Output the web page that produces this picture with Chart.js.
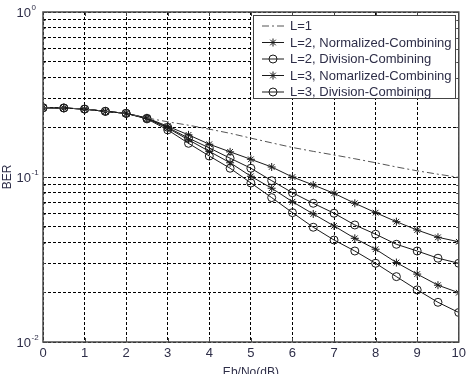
<!DOCTYPE html>
<html lang="en">
<head>
  <meta charset="UTF-8" />
  <title>BER vs Eb/No</title>
  <script src="https://cdn.jsdelivr.net/npm/chart.js"></script>
  <style>
    body { margin: 0; background: #fff; }
    #wrap { width: 470px; height: 374px; }
  </style>
</head>
<body>
  <div id="wrap"><canvas id="myChart" width="470" height="374"></canvas></div>

  <script>
    // x values (dB) and BER
    const ebno = [0, 0.5, 1, 1.5, 2, 2.5, 3, 3.5, 4, 4.5, 5, 5.5, 6, 6.5, 7, 7.5, 8, 8.5, 9, 9.5, 10];
    const berL1 = [0.263, 0.262, 0.258, 0.250, 0.243, 0.228, 0.216, 0.206, 0.195, 0.184, 0.172,
                   0.161, 0.151, 0.143, 0.136, 0.129, 0.122, 0.115, 0.109, 0.104, 0.0995];
    const berL2Norm = [0.263, 0.262, 0.258, 0.250, 0.243, 0.228, 0.203, 0.180, 0.158, 0.142, 0.128,
                       0.115, 0.100, 0.0895, 0.0796, 0.0693, 0.0608, 0.0536, 0.0477, 0.0431, 0.0405];
    const berL2Div = [0.263, 0.262, 0.258, 0.250, 0.243, 0.227, 0.200, 0.172, 0.150, 0.130, 0.113,
                      0.095, 0.0803, 0.0693, 0.0603, 0.0512, 0.0450, 0.0391, 0.0356, 0.0322, 0.0300];
    const berL3Norm = [0.263, 0.262, 0.258, 0.250, 0.243, 0.226, 0.198, 0.168, 0.143, 0.122, 0.101,
                       0.0855, 0.0708, 0.0597, 0.0505, 0.0425, 0.0365, 0.0303, 0.0258, 0.0221, 0.0199];
    const berL3Div = [0.263, 0.262, 0.258, 0.250, 0.243, 0.225, 0.193, 0.160, 0.134, 0.113, 0.092,
                      0.075, 0.0608, 0.0496, 0.0415, 0.0356, 0.0300, 0.0249, 0.0207, 0.0174, 0.0151];

    const seriesNames = [
      "L=1",
      "L=2, Normalized-Combining",
      "L=2, Division-Combining",
      "L=3, Nomarlized-Combining",
      "L=3, Division-Combining"
    ];
    const seriesMarkers = [false, "star", "circle", "star", "circle"];

    // log-axis grid values (1..9 x each decade) and decade labels
    const yGridVals = [0.01, 0.02, 0.03, 0.04, 0.05, 0.06, 0.07, 0.08, 0.09,
                       0.1, 0.2, 0.3, 0.4, 0.5, 0.6, 0.7, 0.8, 0.9, 1];
    const yDecades = [1, 0.1, 0.01];
    const yExponents = ["0", "-1", "-2"];

    const LINE = "#1a1a1a";
    const TEXT = "#2e2e48";
    const FONT = "Arial, 'Liberation Sans', sans-serif";

    function toPoints(ys) {
      return ebno.map((x, i) => ({ x: x, y: ys[i] }));
    }

    const allSeries = [berL1, berL2Norm, berL2Div, berL3Norm, berL3Div];
    const datasets = allSeries.map((ys, i) => ({
      label: seriesNames[i],
      data: toPoints(ys),
      borderColor: i === 0 ? "#555" : LINE,
      borderWidth: 1,
      borderDash: i === 0 ? [7, 3, 2, 3] : [],
      pointStyle: seriesMarkers[i] || "circle",
      pointRadius: seriesMarkers[i] ? 4 : 0,
      pointBorderColor: LINE,
      pointBackgroundColor: "rgba(0,0,0,0)",
      pointBorderWidth: 1,
      tension: 0
    }));

    function drawMarker(ctx, style, x, y, r) {
      ctx.beginPath();
      if (style === "circle") {
        ctx.arc(x, y, r, 0, Math.PI * 2);
      } else if (style === "star") {
        ctx.moveTo(x - r, y); ctx.lineTo(x + r, y);
        ctx.moveTo(x, y - r); ctx.lineTo(x, y + r);
        const d = r * 0.7;
        ctx.moveTo(x - d, y - d); ctx.lineTo(x + d, y + d);
        ctx.moveTo(x - d, y + d); ctx.lineTo(x + d, y - d);
      }
      ctx.stroke();
    }

    // box, inward ticks, y labels with superscripts, legend
    const frame = {
      id: "frame",
      afterDraw(chart) {
        const ctx = chart.ctx;
        const a = chart.chartArea;
        const xs = chart.scales.x;
        const ys = chart.scales.y;
        ctx.save();

        // tick marks on all sides
        ctx.strokeStyle = "#444";
        ctx.lineWidth = 1;
        ctx.setLineDash([]);
        ctx.beginPath();
        for (let v = 1; v < 10; v++) {
          const px = Math.round(xs.getPixelForValue(v)) + 0.5;
          ctx.moveTo(px, a.top); ctx.lineTo(px, a.top + 4);
          ctx.moveTo(px, a.bottom); ctx.lineTo(px, a.bottom - 4);
        }
        yGridVals.forEach((v) => {
          const py = Math.round(ys.getPixelForValue(v)) + 0.5;
          const len = yDecades.includes(v) ? 4 : 2.5;
          ctx.moveTo(a.left, py); ctx.lineTo(a.left + len, py);
          ctx.moveTo(a.right, py); ctx.lineTo(a.right - len, py);
        });
        ctx.stroke();

        // axes box
        ctx.strokeStyle = "#4a4a4a";
        ctx.lineWidth = 1.5;
        ctx.strokeRect(a.left, a.top, a.right - a.left, a.bottom - a.top);

        // y decade labels 10^k
        ctx.fillStyle = TEXT;
        yDecades.forEach((v, i) => {
          const py = ys.getPixelForValue(v);
          ctx.font = "13px " + FONT;
          ctx.textAlign = "right";
          ctx.textBaseline = "middle";
          ctx.fillText("10", 31, py + 1);
          ctx.font = "8px " + FONT;
          ctx.textAlign = "left";
          ctx.textBaseline = "alphabetic";
          ctx.fillText(yExponents[i], 31.5, py - 2);
        });

        // legend
        const lx = 253, ly = 15, lw = 202, lh = 83;
        ctx.fillStyle = "#fff";
        ctx.fillRect(lx, ly, lw, lh);
        ctx.strokeStyle = "#444";
        ctx.lineWidth = 1;
        ctx.strokeRect(lx + 0.5, ly + 0.5, lw, lh);
        const rows = [26, 42.5, 59, 75.5, 92];
        chart.data.datasets.forEach((ds, i) => {
          const ry = rows[i];
          ctx.strokeStyle = ds.borderColor;
          ctx.lineWidth = 1;
          ctx.setLineDash(ds.borderDash);
          ctx.beginPath();
          ctx.moveTo(262, ry); ctx.lineTo(284, ry);
          ctx.stroke();
          ctx.setLineDash([]);
          if (seriesMarkers[i]) {
            ctx.strokeStyle = LINE;
            drawMarker(ctx, seriesMarkers[i], 273, ry, 4);
          }
          ctx.fillStyle = TEXT;
          ctx.font = "13px " + FONT;
          ctx.textAlign = "left";
          ctx.textBaseline = "middle";
          ctx.fillText(ds.label, 290, ry + 0.5);
        });
        ctx.restore();
      }
    };

    const ctx = document.getElementById("myChart").getContext("2d");
    new Chart(ctx, {
      type: "line",
      data: { datasets },
      plugins: [frame],
      options: {
        responsive: false,
        animation: false,
        layout: { padding: { left: 0, right: 8, top: 12, bottom: 0 } },
        plugins: {
          legend: { display: false },
          tooltip: { enabled: false }
        },
        scales: {
          x: {
            type: "linear",
            min: 0,
            max: 10,
            ticks: {
              stepSize: 1,
              padding: 4,
              color: TEXT,
              font: { family: FONT, size: 13 }
            },
            grid: {
              color: "#000",
              lineWidth: 1,
              tickLength: 0,
              drawTicks: false
            },
            border: { display: false, dash: [3, 2] },
            title: {
              display: true,
              text: "Eb/No(dB)",
              color: TEXT,
              font: { family: FONT, size: 12 },
              padding: { top: 0, bottom: -6 }
            },
            afterFit(scale) { scale.height = 32; }
          },
          y: {
            type: "logarithmic",
            min: 0.01,
            max: 1,
            afterBuildTicks(scale) {
              scale.ticks = yGridVals.map((v) => ({ value: v }));
            },
            ticks: { display: false },
            grid: {
              color: "#000",
              lineWidth: 1,
              drawTicks: false,
              tickLength: 0
            },
            border: { display: false, dash: [3, 2] },
            title: {
              display: true,
              text: "BER",
              color: TEXT,
              font: { family: FONT, size: 12 },
              padding: { top: 0, bottom: 0 }
            },
            afterFit(scale) { scale.width = 43; }
          }
        }
      }
    });
  </script>
</body>
</html>
